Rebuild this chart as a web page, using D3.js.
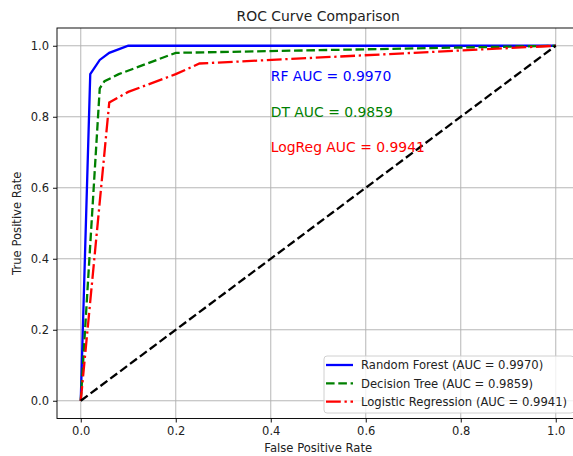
<!DOCTYPE html>
<html>
<head>
<meta charset="utf-8">
<script src="https://cdn.jsdelivr.net/npm/d3@7"></script>
<style>
  body { margin: 0; background: #fff; }
  svg { font-family: "DejaVu Sans", sans-serif; }
</style>
</head>
<body>
<div id="chart"></div>
<script>
"use strict";

var w = 573,
  h = 456;

// curve points
var rfFpr = [0, 0.02, 0.04, 0.06, 0.10, 1.0];
var rfTpr = [0, 0.92, 0.96, 0.98, 1.0, 1.0];
var dtFpr = [0, 0.04, 0.05, 0.08, 0.20, 1.0];
var dtTpr = [0, 0.88, 0.90, 0.92, 0.98, 1.0];
var lrFpr = [0, 0.06, 0.10, 0.20, 0.25, 1.0];
var lrTpr = [0, 0.84, 0.87, 0.92, 0.95, 1.0];
var chanceFpr = [0, 1];
var chanceTpr = [0, 1];

var seriesNames = ["Random Forest (AUC = 0.9970)", "Decision Tree (AUC = 0.9859)", "Logistic Regression (AUC = 0.9941)"];
var seriesColors = ["#0000ff", "#008000", "#ff0000"];
var seriesDash = [null, "8.6,3.7", "14.8,3.7,2.3,3.7"];

var notes = ["RF AUC = 0.9970", "DT AUC = 0.9859", "LogReg AUC = 0.9941"];
var noteY = [0.9, 0.8, 0.7];
var noteX = 0.4;

var tickValues = [0, 0.2, 0.4, 0.6, 0.8, 1.0];

var svg = d3.select("#chart").append("svg").attr("width", w).attr("height", h);

var x = d3.scaleLinear().domain([-0.05, 1.05]).range([57, 579.5]);
var y = d3.scaleLinear().domain([-0.05, 1.05]).range([418.5, 28]);

var zip = function (xs, ys) {
  return xs.map(function (v, i) { return [v, ys[i]]; });
};

// grid
svg.append("g").selectAll("line").data(tickValues).enter().append("line")
  .attr("x1", function (d) { return x(d); }).attr("x2", function (d) { return x(d); })
  .attr("y1", y(-0.05)).attr("y2", y(1.05))
  .attr("stroke", "#b0b0b0").attr("stroke-width", 0.93);
svg.append("g").selectAll("line").data(tickValues).enter().append("line")
  .attr("y1", function (d) { return y(d); }).attr("y2", function (d) { return y(d); })
  .attr("x1", x(-0.05)).attr("x2", x(1.05))
  .attr("stroke", "#b0b0b0").attr("stroke-width", 0.93);

var line = d3.line().x(function (d) { return x(d[0]); }).y(function (d) { return y(d[1]); });

var curves = [zip(rfFpr, rfTpr), zip(dtFpr, dtTpr), zip(lrFpr, lrTpr)];
var plot = svg.append("g");
curves.forEach(function (pts, i) {
  plot.append("path").datum(pts).attr("d", line)
    .attr("fill", "none").attr("stroke", seriesColors[i]).attr("stroke-width", 2.3)
    .attr("stroke-dasharray", seriesDash[i]);
});
plot.append("path").datum(zip(chanceFpr, chanceTpr)).attr("d", line)
  .attr("fill", "none").attr("stroke", "#000").attr("stroke-width", 2.3)
  .attr("stroke-dasharray", "8.6,3.7");

// annotations
svg.append("g").selectAll("text").data(notes).enter().append("text")
  .attr("x", x(noteX)).attr("y", function (d, i) { return y(noteY[i]); })
  .attr("fill", function (d, i) { return seriesColors[i]; })
  .style("font-size", "13.9px").text(function (d) { return d; });

// axes
var fmt = d3.format(".1f");
var xAxis = svg.append("g").attr("transform", "translate(0," + y(-0.05) + ")")
  .call(d3.axisBottom(x).tickValues(tickValues).tickFormat(fmt).tickSize(4).tickPadding(4));
var yAxis = svg.append("g").attr("transform", "translate(" + x(-0.05) + ",0)")
  .call(d3.axisLeft(y).tickValues(tickValues).tickFormat(fmt).tickSize(4).tickPadding(4));
[xAxis, yAxis].forEach(function (g) {
  g.select(".domain").remove();
  g.selectAll("line").attr("stroke", "#000").attr("stroke-width", 0.93);
  g.selectAll("text").style("font-size", "11.5px").style("font-family", "DejaVu Sans").attr("fill", "#222");
});

// frame
svg.append("rect").attr("x", x(-0.05)).attr("y", y(1.05))
  .attr("width", x(1.05) - x(-0.05)).attr("height", y(-0.05) - y(1.05))
  .attr("fill", "none").attr("stroke", "#000").attr("stroke-width", 0.93);

// legend
var lg = svg.append("g");
lg.append("rect").attr("x", 324).attr("y", 356).attr("width", 250).attr("height", 57)
  .attr("rx", 3).attr("fill", "#fff").attr("fill-opacity", 0.8)
  .attr("stroke", "#cccccc").attr("stroke-width", 0.93);
seriesNames.forEach(function (name, i) {
  var ry = 365 + i * 18.3;
  lg.append("line").attr("x1", 326).attr("x2", 353).attr("y1", ry).attr("y2", ry)
    .attr("stroke", seriesColors[i]).attr("stroke-width", 2.3)
    .attr("stroke-dasharray", seriesDash[i]);
  lg.append("text").attr("x", 361).attr("y", ry + 4.2)
    .style("font-size", "11.6px").attr("fill", "#222").text(name);
});

// titles
svg.append("text").attr("x", (x(-0.05) + x(1.05)) / 2).attr("y", 21)
  .attr("text-anchor", "middle").style("font-size", "13.9px").attr("fill", "#222")
  .text("ROC Curve Comparison");
svg.append("text").attr("x", (x(-0.05) + x(1.05)) / 2).attr("y", 452)
  .attr("text-anchor", "middle").style("font-size", "11.6px").attr("fill", "#222")
  .text("False Positive Rate");
svg.append("text").attr("transform", "translate(21," + (y(-0.05) + y(1.05)) / 2 + ") rotate(-90)")
  .attr("text-anchor", "middle").style("font-size", "11.6px").attr("fill", "#222")
  .text("True Positive Rate");
</script>
</body>
</html>
